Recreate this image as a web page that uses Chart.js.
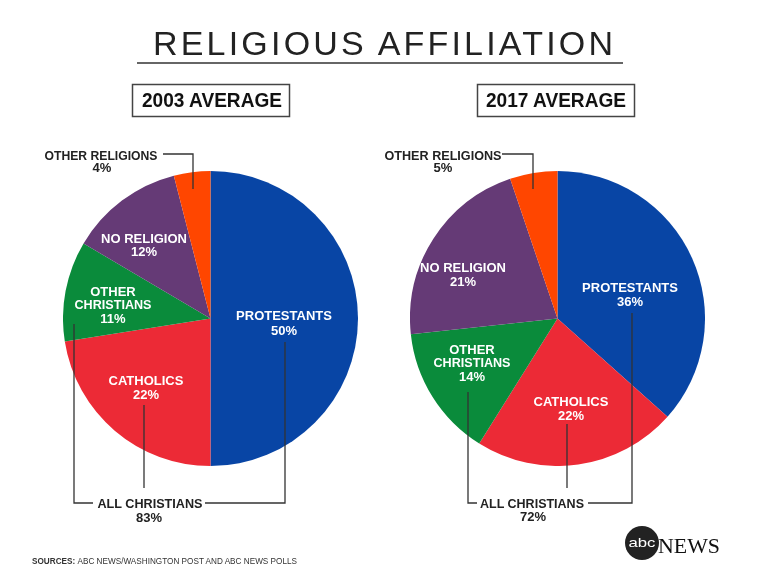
<!DOCTYPE html>
<html>
<head>
<meta charset="utf-8">
<script src="https://cdn.jsdelivr.net/npm/chart.js@4/dist/chart.umd.min.js"></script>
<style>
  html, body { margin: 0; padding: 0; background: #fff; }
  #wrap { position: relative; width: 768px; height: 588px; overflow: hidden; background: #fff; }
  canvas { position: absolute; }
  #c1 { left: 63px; top: 171px; }
  #c2 { left: 410px; top: 171px; }
  svg { position: absolute; left: 0; top: 0; pointer-events: none; }
</style>
</head>
<body>
<div id="wrap">
  <canvas id="c1" width="295" height="295"></canvas>
  <canvas id="c2" width="295" height="295"></canvas>
  <svg id="ov" width="768" height="588" xmlns="http://www.w3.org/2000/svg"></svg>
</div>
<script>
// ---- data ----
const categories = ['PROTESTANTS', 'CATHOLICS', 'OTHER CHRISTIANS', 'NO RELIGION', 'OTHER RELIGIONS'];
const values2003 = [50, 22.5, 11, 12.5, 4];
const values2017 = [36.6, 22.3, 14.4, 21.5, 5.2];
const pctLabels2003 = ['50%', '22%', '11%', '12%', '4%'];
const pctLabels2017 = ['36%', '22%', '14%', '21%', '5%'];
const allChristians = ['83%', '72%'];
const panelTitles = ['2003 AVERAGE', '2017 AVERAGE'];
const sliceColors = ['#0845a5', '#ec2a36', '#0a8b3b', '#653a76', '#ff4600'];

function makePie(id, values) {
  new Chart(document.getElementById(id), {
    type: 'pie',
    data: {
      labels: categories,
      datasets: [{ data: values, backgroundColor: sliceColors, borderWidth: 0 }]
    },
    options: {
      responsive: false,
      animation: false,
      layout: { padding: 0 },
      plugins: { legend: { display: false }, tooltip: { enabled: false } }
    }
  });
}
makePie('c1', values2003);
makePie('c2', values2017);

// ---- overlay text & callouts ----
const svg = document.getElementById('ov');
const NS = 'http://www.w3.org/2000/svg';
function el(tag, attrs, text) {
  const e = document.createElementNS(NS, tag);
  for (const k in attrs) e.setAttribute(k, attrs[k]);
  if (text !== undefined) e.textContent = text;
  svg.appendChild(e);
  return e;
}
function txt(x, y, s, opts) {
  opts = opts || {};
  const a = {
    x: x, y: y, 'text-anchor': opts.anchor || 'middle',
    'font-family': opts.family || '"Liberation Sans", Arial, sans-serif',
    'font-weight': opts.weight || 'bold',
    'font-size': opts.size || 13,
    fill: opts.fill || '#fff'
  };
  if (opts.len) { a.textLength = opts.len; a.lengthAdjust = opts.adjust || 'spacingAndGlyphs'; }
  return el('text', a, s);
}
function line(pts) {
  el('polyline', { points: pts.map(p => p.join(',')).join(' '), fill: 'none', stroke: '#333', 'stroke-width': 1.3 });
}

// title
txt(383, 55, 'RELIGIOUS AFFILIATION', { weight: 'normal', size: 34, fill: '#222', len: 460, adjust: 'spacing' });
el('line', { x1: 137, y1: 63, x2: 623, y2: 63, stroke: '#666', 'stroke-width': 2 });

// panel boxes
el('rect', { x: 132.5, y: 84.5, width: 157, height: 32, fill: 'none', stroke: '#444', 'stroke-width': 1.5 });
txt(212, 107, panelTitles[0], { size: 19.5, fill: '#111', len: 140 });
el('rect', { x: 477.5, y: 84.5, width: 157, height: 32, fill: 'none', stroke: '#444', 'stroke-width': 1.5 });
txt(556, 107, panelTitles[1], { size: 19.5, fill: '#111', len: 140 });

// callout lines
line([[163, 154], [193, 154], [193, 189]]);
line([[502, 154], [533, 154], [533, 189]]);
// all christians brackets 2003
line([[74, 324], [74, 503], [93, 503]]);
line([[205, 503], [285, 503], [285, 342]]);
line([[144, 405], [144, 488]]);
// 2017
line([[468, 392], [468, 503], [477, 503]]);
line([[588, 503], [632, 503], [632, 313]]);
line([[567, 424], [567, 488]]);

// in-slice labels 2003
txt(284, 320, categories[0]); txt(284, 335, pctLabels2003[0]);
txt(146, 385, categories[1]); txt(146, 399, pctLabels2003[1]);
txt(113, 296, 'OTHER'); txt(113, 309, 'CHRISTIANS', { len: 77 }); txt(113, 323, pctLabels2003[2]);
txt(144, 243, categories[3]); txt(144, 256, pctLabels2003[3]);
// in-slice labels 2017
txt(630, 292, categories[0]); txt(630, 306, pctLabels2017[0]);
txt(571, 406, categories[1]); txt(571, 420, pctLabels2017[1]);
txt(472, 354, 'OTHER'); txt(472, 367, 'CHRISTIANS', { len: 77 }); txt(472, 381, pctLabels2017[2]);
txt(463, 272, categories[3]); txt(463, 286, pctLabels2017[3]);

// outside labels
txt(101, 160, categories[4], { fill: '#222', len: 113 }); txt(102, 172, pctLabels2003[4], { fill: '#222' });
txt(443, 160, categories[4], { fill: '#222', len: 117 }); txt(443, 172, pctLabels2017[4], { fill: '#222' });
txt(150, 508, 'ALL CHRISTIANS', { fill: '#222', len: 105 }); txt(149, 522, allChristians[0], { fill: '#222' });
txt(532, 508, 'ALL CHRISTIANS', { fill: '#222', len: 104 }); txt(533, 521, allChristians[1], { fill: '#222' });

// sources
const s = el('text', { x: 32, y: 564, 'font-family': '"Liberation Sans", Arial, sans-serif', 'font-size': 9, fill: '#333', textLength: 265, lengthAdjust: 'spacingAndGlyphs' });
const t1 = document.createElementNS(NS, 'tspan'); t1.setAttribute('font-weight', 'bold'); t1.textContent = 'SOURCES: ';
const t2 = document.createElementNS(NS, 'tspan'); t2.textContent = 'ABC NEWS/WASHINGTON POST AND ABC NEWS POLLS';
s.appendChild(t1); s.appendChild(t2);

// logo
el('circle', { cx: 642, cy: 543, r: 17, fill: '#222' });
txt(642, 547, 'abc', { size: 13, weight: 'normal', fill: '#fff', len: 27 });
txt(658, 553, 'NEWS', { anchor: 'start', family: '"Liberation Serif", "DejaVu Serif", serif', weight: 'normal', size: 21, fill: '#111', len: 62 });
</script>
</body>
</html>
